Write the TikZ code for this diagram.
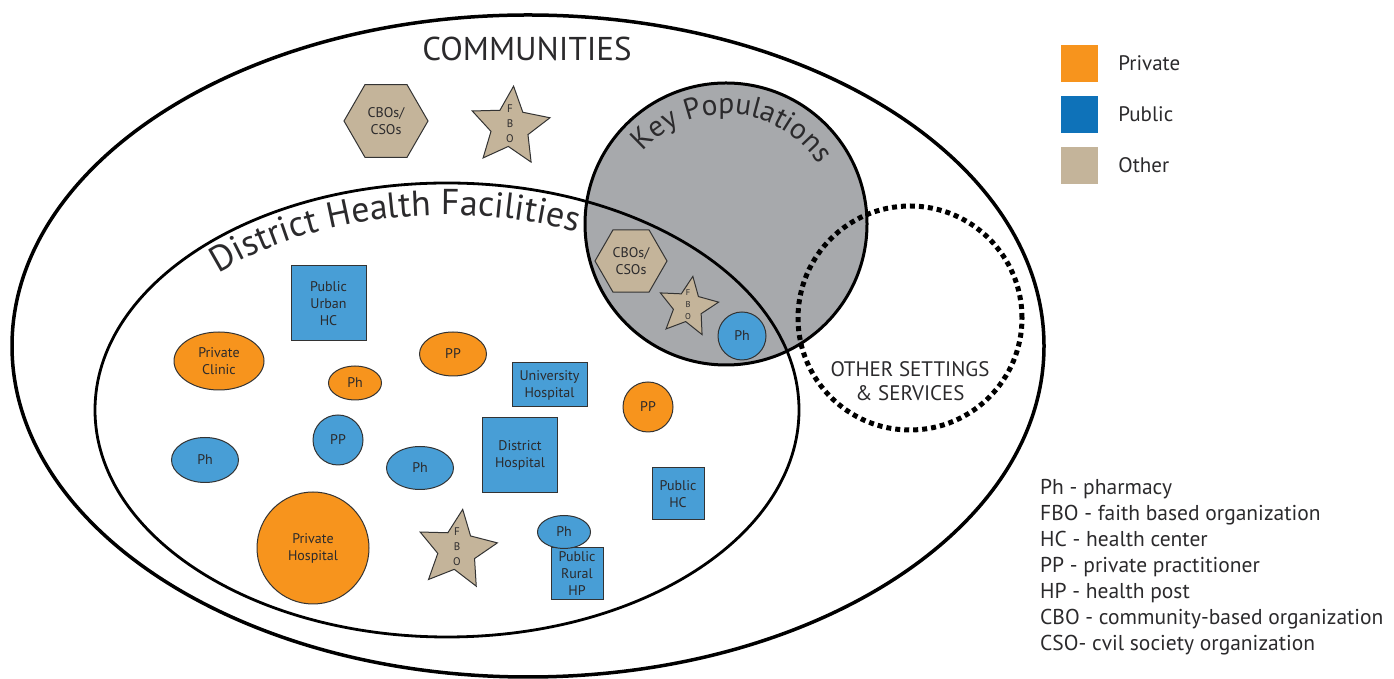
\documentclass[tikz,border=0pt]{standalone}
\usepackage{fontspec}
\setmainfont{PT Sans}
\usetikzlibrary{positioning}
\usetikzlibrary{shapes.geometric}
\usetikzlibrary{decorations.text}

\definecolor{privorange}{HTML}{F7941D}
\definecolor{publegend}{HTML}{0E72B9}
\definecolor{pubblue}{HTML}{489ED6}
\definecolor{othertan}{HTML}{C4B49A}
\definecolor{keygray}{HTML}{A7A9AC}
\definecolor{inkgray}{HTML}{2B2A2C}

% letters stacked in a star, kept out of the star's size
\newcommand{\fbotext}{\smash{\begin{tabular}[c]{@{}c@{}}F\\B\\O\end{tabular}}}

\tikzset{
    unit/.style={draw=black!80, line width=1pt, text=inkgray, inner sep=0pt, align=center, font=\fontsize{14}{17}\selectfont},
    privoval/.style={unit, ellipse, fill=privorange},
    puboval/.style={unit, ellipse, fill=pubblue},
    pubbox/.style={unit, rectangle, fill=pubblue},
    hexbox/.style={unit, regular polygon, regular polygon sides=6, fill=othertan},
    fbostar/.style={unit, star, star points=5, star point ratio=2.1, fill=othertan, font=\fontsize{11}{15}\selectfont},
    legendsq/.style={rectangle, minimum size=37pt, inner sep=0pt},
    legendtxt/.style={inner sep=0pt, text=inkgray, font=\fontsize{21}{24}\selectfont},
}

\begin{document}
\begin{tikzpicture}[x=1pt, y=1pt]
    \useasboundingbox (0,0) rectangle (1394,679);

    % the sets
    \node (communities) [ellipse, minimum width=1032pt, minimum height=662pt, draw=black, line width=3.5pt] at (528,333) {};
    \node (keypop) [circle, minimum size=282pt, draw=black, line width=3pt, fill=keygray] at (726,455) {};
    \node (district) [ellipse, minimum width=704pt, minimum height=454pt, draw=black, line width=2.8pt] at (447,269) {};
    \node (othersettings) [circle, minimum size=224pt, draw=black, line width=5pt, dash pattern=on 5pt off 4pt] at (910,361) {};

    \node (communitiestitle) [text=inkgray, font=\fontsize{33}{36}\selectfont] at (527,630) {COMMUNITIES};
    \path [decorate, decoration={text along path, text align=center, text color=inkgray,
        text={|\fontsize{29.5}{29.5}\selectfont|Key Populations}}]
        (726,455) ++(150:110) arc [start angle=150, end angle=22, radius=110];
    \path [decorate, decoration={text along path, text align=center, text color=inkgray,
        text={|\fontsize{36}{36}\selectfont|District Health Facilities}}]
        (447,269) ++(145:320 and 195) arc [start angle=145, end angle=58, x radius=320, y radius=195];
    \node (othertitle) [text=inkgray, align=center, font=\fontsize{21}{24}\selectfont] at (910,298) {OTHER SETTINGS\\\& SERVICES};

    % communities
    \node (cbocom) [hexbox, minimum size=84pt] at (386,558) {CBOs/\\CSOs};
    \node (fbocom) [fbostar, minimum size=82pt, shape border rotate=-5] at (510,552) {\fbotext};

    % key populations
    \node (cbokey) [hexbox, minimum size=72pt] at (631,418) {CBOs/\\CSOs};
    \node (fbokey) [fbostar, minimum size=62pt, shape border rotate=-9, font=\fontsize{8.5}{12}\selectfont] at (688,372) {\fbotext};
    \node (phkey) [puboval, minimum size=48pt] at (742,343) {Ph};

    % district health facilities
    \node (urbanhc) [pubbox, minimum width=75pt, minimum height=75pt] at (328.5,375.5) {Public\\Urban\\HC};
    \node (privclinic) [privoval, minimum width=90pt, minimum height=58pt] at (219,318) {Private\\Clinic};
    \node (pptop) [privoval, minimum width=67pt, minimum height=44pt] at (453,325) {PP};
    \node (phorange) [privoval, minimum width=53pt, minimum height=34pt] at (355,296) {Ph};
    \node (ppblue) [puboval, minimum width=50pt, minimum height=50pt] at (338,239) {PP};
    \node (phleft) [puboval, minimum width=67pt, minimum height=45pt] at (205,219) {Ph};
    \node (phmid) [puboval, minimum width=67pt, minimum height=43pt] at (420,211) {Ph};
    \node (unihosp) [pubbox, minimum width=75pt, minimum height=44pt] at (549.5,294) {University\\Hospital};
    \node (disthosp) [pubbox, minimum width=75pt, minimum height=75pt] at (520,224) {District\\Hospital};
    \node (ppright) [privoval, minimum width=50pt, minimum height=50pt] at (648,272) {PP};
    \node (publichc) [pubbox, minimum width=52pt, minimum height=52pt] at (678,185) {Public\\HC};
    \node (privhosp) [privoval, minimum width=112pt, minimum height=112pt] at (313,131) {Private\\Hospital};
    \node (fbodist) [fbostar, minimum size=82pt, shape border rotate=-8] at (457,129) {\fbotext};
    \node (ruralhp) [pubbox, minimum width=52pt, minimum height=52pt] at (577,105) {Public\\Rural\\HP};
    \node (phrural) [puboval, minimum width=53pt, minimum height=33pt] at (564,147) {Ph};

    % legend
    \node (legpriv) [legendsq, fill=privorange] at (1079.5,615.5) {};
    \node (legpub) [legendsq, fill=publegend] at (1079.5,564.5) {};
    \node (legother) [legendsq, fill=othertan] at (1079.5,513.5) {};
    \node (legprivtxt) [legendtxt, right = 20pt of legpriv] {Private};
    \node (legpubtxt) [legendtxt, right = 20pt of legpub] {Public};
    \node (legothertxt) [legendtxt, right = 20pt of legother] {Other};

    \node (glossary) [anchor=north west, align=left, inner sep=0pt, text=inkgray, font=\fontsize{21.5}{26}\selectfont] at (1040,200) {
        Ph - pharmacy\\
        FBO - faith based organization\\
        HC - health center\\
        PP - private practitioner\\
        HP - health post\\
        CBO - community-based organization\\
        CSO- cvil society organization
    };
\end{tikzpicture}
\end{document}
